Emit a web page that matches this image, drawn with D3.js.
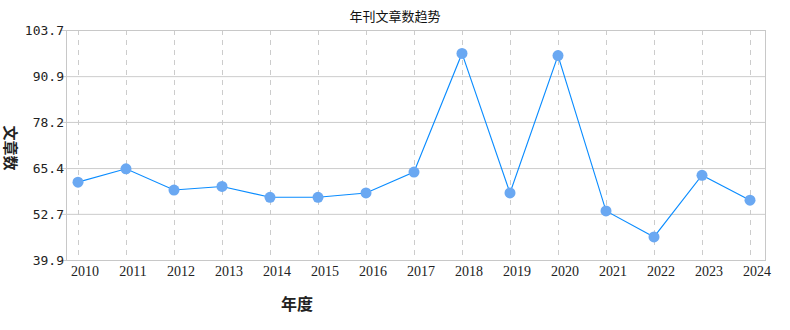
<!DOCTYPE html>
<html>
<head>
<meta charset="utf-8">
<script src="https://cdn.jsdelivr.net/npm/d3@7"></script>
<style>
  body { margin: 0; background: #fff; }
  svg { display: block; }
</style>
</head>
<body>
<svg id="chart" width="790" height="330"></svg>
<script>
const years = ['2010', '2011', '2012', '2013', '2014', '2015', '2016', '2017', '2018', '2019', '2020', '2021', '2022', '2023', '2024'];
const counts = [61.5, 65.2, 59.3, 60.3, 57.3, 57.3, 58.5, 64.3, 97.2, 58.5, 96.6, 53.5, 46.3, 63.4, 56.5];
const yTicks = [39.9, 52.7, 65.4, 78.2, 90.9, 103.7];

const w = 790;
const h = 330;
const margin = { top: 30, right: 25, bottom: 70, left: 66 };

const svg = d3.select('#chart');

const xScale = d3.scalePoint()
  .domain(years)
  .range([78, 750]);
const yScale = d3.scaleLinear()
  .domain([39.9, 103.7])
  .range([h - margin.bottom, margin.top]);

// horizontal grid
svg.append('g')
  .selectAll('line')
  .data(yTicks)
  .enter()
  .append('line')
  .attr('x1', margin.left - 6)
  .attr('x2', w - margin.right)
  .attr('y1', d => yScale(d) + 0.5)
  .attr('y2', d => yScale(d) + 0.5)
  .attr('stroke', '#cccccc');

// vertical dashed grid
svg.append('g')
  .selectAll('line')
  .data(years)
  .enter()
  .append('line')
  .attr('x1', d => xScale(d) + 0.5)
  .attr('x2', d => xScale(d) + 0.5)
  .attr('y1', margin.top)
  .attr('y2', h - margin.bottom)
  .attr('stroke', '#cccccc')
  .attr('stroke-dasharray', '5,5');

// frame
svg.append('rect')
  .attr('x', margin.left + 0.5)
  .attr('y', margin.top + 0.5)
  .attr('width', w - margin.right - margin.left)
  .attr('height', h - margin.bottom - margin.top)
  .attr('fill', 'none')
  .attr('stroke', '#c8c8c8');

// y labels
svg.append('g')
  .selectAll('text')
  .data(yTicks)
  .enter()
  .append('text')
  .attr('x', margin.left - 2)
  .attr('y', d => yScale(d) + 5)
  .attr('text-anchor', 'end')
  .style('font-family', "'DejaVu Sans Mono', monospace")
  .style('font-size', '13px')
  .attr('fill', '#222')
  .text(d => d.toFixed(1));

// x labels
svg.append('g')
  .selectAll('text')
  .data(years)
  .enter()
  .append('text')
  .attr('x', d => xScale(d) + 7)
  .attr('y', h - margin.bottom + 16)
  .attr('text-anchor', 'middle')
  .style('font-family', "'Liberation Serif', serif")
  .style('font-size', '14px')
  .attr('fill', '#222')
  .text(d => d);

// line
const line = d3.line()
  .x((d, i) => xScale(years[i]))
  .y(d => yScale(d));

svg.append('path')
  .datum(counts)
  .attr('d', line)
  .attr('fill', 'none')
  .attr('stroke', '#0a8cff')
  .attr('stroke-width', 1.1);

svg.append('g')
  .selectAll('circle')
  .data(counts)
  .enter()
  .append('circle')
  .attr('cx', (d, i) => xScale(years[i]))
  .attr('cy', d => yScale(d))
  .attr('r', 5.5)
  .attr('fill', '#6aa8f2');

// titles
svg.append('text')
  .attr('x', 395)
  .attr('y', 21)
  .attr('text-anchor', 'middle')
  .style('font-family', "'Noto Sans CJK SC', sans-serif")
  .style('font-size', '13px')
  .attr('fill', '#111')
  .text('年刊文章数趋势');

svg.append('text')
  .attr('transform', 'translate(5, 148) rotate(90)')
  .attr('text-anchor', 'middle')
  .style('font-family', "'Noto Sans CJK SC', sans-serif")
  .style('font-size', '15px')
  .style('font-weight', 'bold')
  .attr('fill', '#222')
  .text('文章数');

svg.append('text')
  .attr('x', 297)
  .attr('y', 310)
  .attr('text-anchor', 'middle')
  .style('font-family', "'Noto Sans CJK SC', sans-serif")
  .style('font-size', '16px')
  .style('font-weight', 'bold')
  .attr('fill', '#222')
  .text('年度');
</script>
</body>
</html>
